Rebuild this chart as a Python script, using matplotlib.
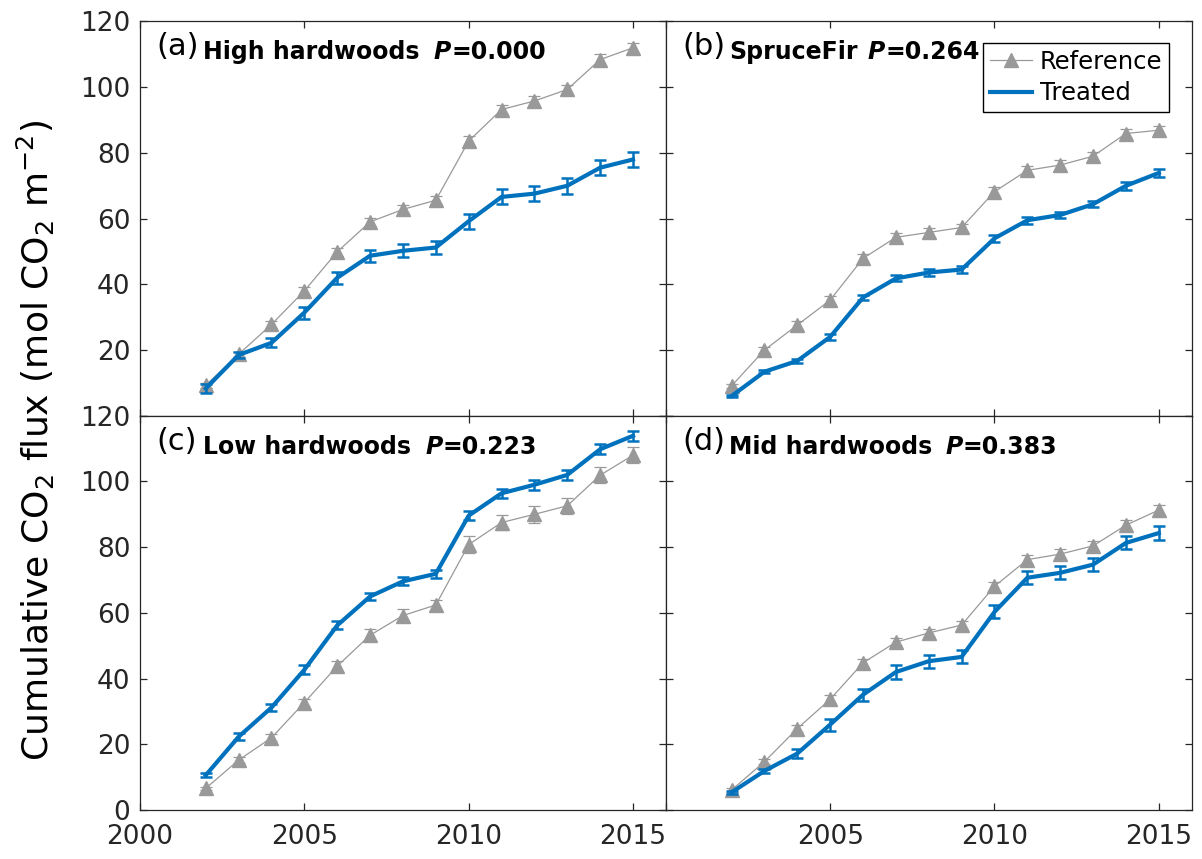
import matplotlib
matplotlib.use('Agg')
import matplotlib.pyplot as plt
from matplotlib.lines import Line2D
import numpy as np

plt.rcParams['font.family'] = 'DejaVu Sans'
plt.rcParams['mathtext.fontset'] = 'dejavusans'

blue = '#0072BD'
gray = '#999999'
axcol = '#262626'

years = list(range(2002, 2016))

# (a) High hardwoods
high_ref = [9.3, 18.7, 27.8, 38.0, 49.9, 59.0, 62.8, 65.6, 83.6, 93.2, 95.8, 99.3, 108.4, 112.0]
high_ref_err = [0.8, 0.8, 1.0, 1.2, 1.3, 1.3, 1.2, 1.2, 1.4, 1.4, 1.4, 1.4, 1.6, 1.6]
high_trt = [8.3, 18.5, 22.2, 31.4, 42.0, 48.7, 50.2, 51.2, 59.2, 66.6, 67.6, 70.0, 75.5, 78.0]
high_trt_err = [1.5, 0.8, 1.4, 1.8, 1.9, 1.9, 2.0, 2.1, 2.3, 2.3, 2.3, 2.4, 2.3, 2.4]

# (b) SpruceFir
spruce_ref = [9.1, 20.0, 27.6, 35.2, 47.9, 54.3, 55.8, 57.3, 68.2, 74.7, 76.3, 79.0, 85.9, 86.9]
spruce_ref_err = [0.6, 0.8, 1.2, 1.2, 1.3, 1.3, 1.3, 1.2, 1.3, 1.4, 1.4, 1.4, 1.3, 1.4]
spruce_trt = [6.0, 13.4, 16.7, 24.0, 36.0, 41.8, 43.6, 44.5, 54.0, 59.5, 61.1, 64.4, 70.0, 73.9]
spruce_trt_err = [0.4, 0.4, 0.6, 0.8, 0.8, 0.9, 1.0, 1.1, 1.0, 1.1, 1.0, 1.0, 1.2, 1.3]

# (c) Low hardwoods
low_ref = [6.6, 15.2, 22.0, 32.7, 43.8, 53.2, 59.2, 62.4, 80.8, 87.5, 90.0, 92.6, 101.9, 108.0]
low_ref_err = [0.5, 0.8, 1.0, 1.2, 1.6, 1.8, 2.0, 1.5, 2.5, 2.4, 2.5, 2.4, 2.5, 2.4]
low_trt = [10.6, 22.3, 31.2, 42.7, 56.2, 65.0, 69.6, 71.9, 89.6, 96.4, 99.0, 102.0, 109.8, 113.9]
low_trt_err = [0.6, 1.0, 1.2, 1.3, 1.2, 1.2, 1.2, 1.3, 1.4, 1.4, 1.5, 1.5, 1.5, 1.5]

# (d) Mid hardwoods
mid_ref = [6.1, 14.7, 24.8, 33.7, 44.8, 51.1, 53.9, 56.3, 68.1, 76.2, 77.9, 80.4, 86.7, 91.3]
mid_ref_err = [0.5, 0.8, 1.0, 1.2, 1.2, 1.2, 1.2, 1.2, 1.3, 1.4, 1.4, 1.4, 1.5, 1.6]
mid_trt = [5.4, 11.9, 17.2, 26.0, 35.1, 42.0, 45.3, 46.6, 60.3, 70.7, 72.2, 74.7, 81.3, 84.3]
mid_trt_err = [0.5, 0.7, 1.5, 1.8, 1.8, 2.0, 2.0, 2.0, 2.0, 2.0, 2.0, 2.0, 2.0, 2.2]

panels = [
    ('(a)', 'High hardwoods', '0.000', high_ref, high_ref_err, high_trt, high_trt_err, 0.559),
    ('(b)', 'SpruceFir', '0.264', spruce_ref, spruce_ref_err, spruce_trt, spruce_trt_err, 0.384),
    ('(c)', 'Low hardwoods', '0.223', low_ref, low_ref_err, low_trt, low_trt_err, 0.542),
    ('(d)', 'Mid hardwoods', '0.383', mid_ref, mid_ref_err, mid_trt, mid_trt_err, 0.532),
]

fig, axes = plt.subplots(2, 2, figsize=(12.02, 8.59), dpi=100)
fig.subplots_adjust(left=0.1165, right=0.9914, top=0.975, bottom=0.057,
                    hspace=0, wspace=0)
axes = axes.flatten()

for i, (tag, name, pval, ref, ref_err, trt, trt_err, px) in enumerate(panels):
    ax = axes[i]
    ax.errorbar(years, ref, yerr=ref_err, color=gray, marker='^', markersize=10,
                linewidth=0.9, elinewidth=0.9, capsize=4, capthick=0.9, zorder=2)
    ax.errorbar(years, trt, yerr=trt_err, color=blue, linewidth=3, elinewidth=1.8,
                capsize=4, capthick=1.8, zorder=3)
    ax.set_xlim(2000, 2016)
    ax.set_ylim(0, 120)
    ax.set_xticks([2000, 2005, 2010, 2015])
    ax.set_yticks(range(0, 121, 20))
    ax.tick_params(direction='in', length=5, width=0.9, top=True, right=True,
                   labelsize=19, colors=axcol, labelcolor=axcol, pad=7)
    ax.tick_params(axis='x', pad=10)
    for sp in ax.spines.values():
        sp.set_color(axcol)
        sp.set_linewidth(0.9)

    ax.text(0.032, 0.914, tag, transform=ax.transAxes, fontsize=22, color='black')
    ax.text(0.12, 0.904, name, transform=ax.transAxes, fontsize=17,
            fontweight='bold', color='black')
    ax.text(px, 0.904, 'P', transform=ax.transAxes, fontsize=17,
            fontweight='bold', fontstyle='italic', color='black')
    ax.text(px + 0.033, 0.904, '=' + pval, transform=ax.transAxes, fontsize=17,
            fontweight='bold', color='black')

# tick label visibility
axes[0].tick_params(labelbottom=False)
axes[0].set_yticklabels([''] + [str(v) for v in range(20, 121, 20)])
axes[1].tick_params(labelbottom=False, labelleft=False)
axes[3].tick_params(labelleft=False)
axes[3].set_xticklabels(['', '2005', '2010', '2015'])

handles = [Line2D([], [], color=gray, marker='^', markersize=10, linewidth=0.9),
           Line2D([], [], color=blue, linewidth=3)]
leg = axes[1].legend(handles, ['Reference', 'Treated'], loc='upper right',
                     bbox_to_anchor=(0.957, 0.945), borderaxespad=0, fontsize=17.5,
                     handlelength=1.75, handletextpad=0.3, labelspacing=0.3,
                     fancybox=False, framealpha=1, edgecolor='black',
                     borderpad=0.28)
leg.get_frame().set_linewidth(1.0)

fig.text(0.03, 0.487, r'Cumulative CO$_2$ flux (mol CO$_2$ m$^{-2}$)',
         rotation=90, va='center', ha='center', fontsize=26, color='black')

plt.savefig('out.png', dpi=100)
